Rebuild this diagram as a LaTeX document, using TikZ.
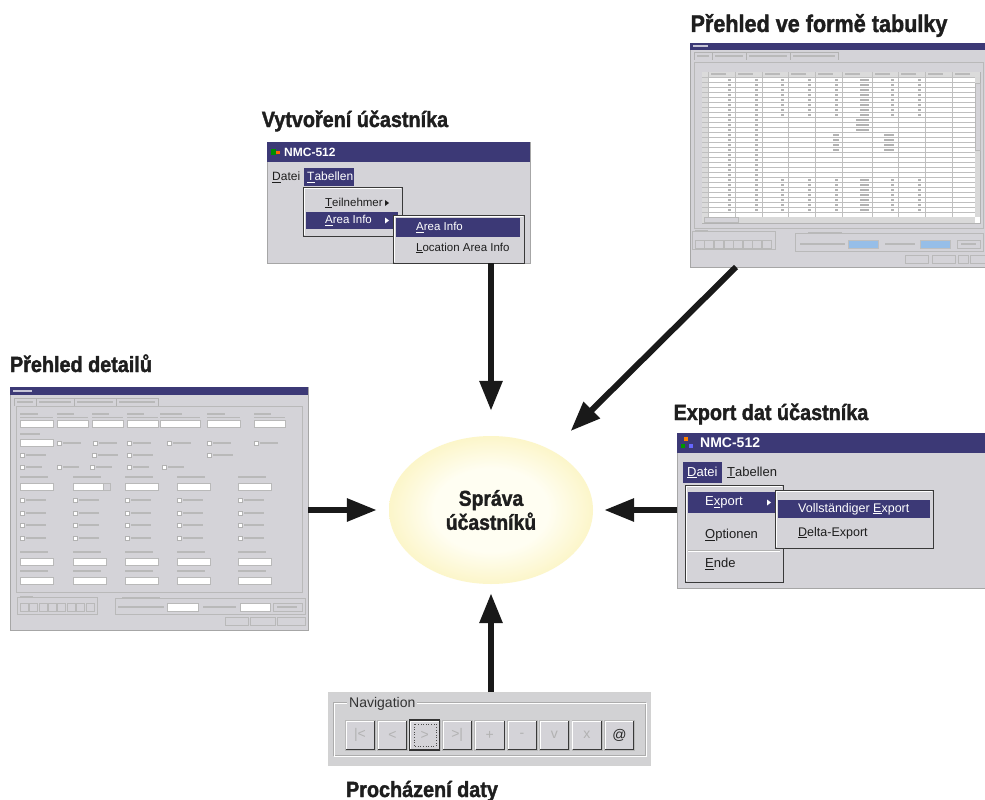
\documentclass[tikz,border=0pt]{standalone}
\usepackage{fontspec}
\setmainfont{Liberation Sans}
\newfontfamily\labfont[FakeStretch=0.9, BoldFeatures={FakeBold=1.6}]{Liberation Sans}
\newfontfamily\uifont{Liberation Sans}
\usetikzlibrary{arrows.meta,shapes.geometric,calc}
\definecolor{wingray}{RGB}{212,211,216}
\definecolor{panelgray}{RGB}{210,210,212}
\definecolor{titleblue}{RGB}{60,57,118}
\definecolor{ink}{RGB}{30,30,30}
\definecolor{corein}{RGB}{255,254,242}
\definecolor{coreout}{RGB}{247,232,135}
\definecolor{fieldblue}{RGB}{150,190,232}
\pgfdeclareradialshading{coreglow}{\pgfpoint{0bp}{0bp}}{color(0bp)=(corein); color(14bp)=(corein); color(43bp)=(coreout); color(50bp)=(coreout!60!white)}
\tikzset{
  win/.style={draw=gray!70, fill=wingray, line width=0.8pt, inner sep=0pt, outer sep=0pt, anchor=north west},
  tbar/.style={fill=titleblue},
  menubox/.style={fill=wingray, draw=gray!45!black, line width=0.8pt},
  lab/.style={font=\labfont\bfseries\fontsize{22}{25}\selectfont, text=ink, inner sep=0pt, anchor=base},
  ui/.style={font=\uifont\fontsize{12}{13}\selectfont, text=ink, inner sep=0pt, anchor=west},
  uiw/.style={ui, text=white},
  ptxt/.style={fill=gray!55},
  field/.style={fill=white, draw=gray!55, line width=0.4pt},
  chk/.style={fill=white, draw=gray!60, line width=0.4pt},
  btn/.style={fill=wingray, draw=gray!55, line width=0.5pt},
  arr/.style={draw=black!90, line width=6pt, -{Triangle[length=30pt,width=22pt]}},
}
\begin{document}
\begin{tikzpicture}[x=1pt,y=-1pt]
\path[use as bounding box, fill=white] (0,0) rectangle (985,800);

% ---------- central ellipse ----------
\node[ellipse, shade, shading=coreglow, minimum width=204pt, minimum height=148pt,
      inner sep=0pt, align=center, text=ink,
      font=\labfont\bfseries\fontsize{21.5}{24}\selectfont] (core) at (491,510) {Správa\\účastníků};

% ---------- window: create participant ----------
\node[win, minimum width=263pt, minimum height=121pt] (creat) at (267,142) {};
\fill[tbar] (267,142) rectangle (530,162);
\fill[green!55!black] (271,149) rectangle (276,155);
\fill[orange!80!red] (276,150.5) rectangle (280,153.5);
\node[uiw, font=\uifont\bfseries\fontsize{12}{12}\selectfont] (ctitle) at (284,152) {NMC-512};
\node[ui] (cm1) at (272,177) {\underline{D}atei};
\fill[tbar] (304,168) rectangle (354,186);
\node[uiw] (cm2) at (307,177) {\underline{T}abellen};
\filldraw[menubox] (303,187) rectangle (402,236);
\draw[white, line width=0.8pt] (304,235) -- (304,188) -- (401,188);
\node[ui, font=\uifont\fontsize{11.5}{12}\selectfont] (cd1) at (325,203) {\underline{T}eilnehmer};
\fill[ink] (385,200) -- (389,203) -- (385,206) -- cycle;
\fill[tbar] (306,212) rectangle (398,229);
\node[uiw, font=\uifont\fontsize{11.5}{12}\selectfont] (cd2) at (325,220.5) {\underline{A}rea Info};
\fill[white] (385,217.5) -- (389,220.5) -- (385,223.5) -- cycle;
\filldraw[menubox] (393,215) rectangle (524,263);
\draw[white, line width=0.8pt] (394,262) -- (394,216) -- (523,216);
\fill[tbar] (396,218) rectangle (520,237);
\node[uiw, font=\uifont\fontsize{11.5}{12}\selectfont] (cs1) at (416,227.5) {\underline{A}rea Info};
\node[ui, font=\uifont\fontsize{11.5}{12}\selectfont] (cs2) at (416,248) {\underline{L}ocation Area Info};

% ---------- window: table overview ----------
\node[win, minimum width=295pt, minimum height=224pt] (tabw) at (690,43) {};
\fill[tbar] (690,43) rectangle (985,50);
\fill[white!70!titleblue] (693,45.5) rectangle (708,47.5);
\foreach \a/\b in {694/712,712/746,746/790,790/838}{
  \draw[gray!60, line width=0.4pt] (\a,60) -- (\a,52) -- (\b,52) -- (\b,60);
  \fill[ptxt] (\a+3,55) rectangle (\b-3,57);
}
\draw[gray!55, line width=0.5pt] (694,62) rectangle (983,228);
\filldraw[fill=white, draw=gray!60, line width=0.5pt] (702,72) rectangle (980,223);
\fill[gray!28] (702,72) rectangle (980,77);
\fill[gray!28] (702,77) rectangle (708,217);
\foreach \r in {0,...,28}
  \draw[gray!50, line width=0.35pt] (702,77+5*\r) -- (975,77+5*\r);
\foreach \c in {708,735,762,788,815,842,872,898,925,952}{
  \draw[gray!50, line width=0.35pt] (\c,72) -- (\c,217);
  \fill[ptxt] (\c+3,73.5) rectangle (\c+18,75.5);
}
\foreach \r in {1,2,3,4,5,6,7,8,21,22,23,24,25,26,27}{
  \foreach \c in {735,762,788,815,842,898,925}
    \fill[gray!60] (\c-7,77+5*\r-3.5) rectangle (\c-4,77+5*\r-1.5);
  \fill[gray!60] (860,77+5*\r-3.5) rectangle (869,77+5*\r-1.5);
}
\foreach \r in {9,...,20}{
  \fill[gray!60] (728,77+5*\r-3.5) rectangle (731,77+5*\r-1.5);
  \fill[gray!60] (755,77+5*\r-3.5) rectangle (758,77+5*\r-1.5);
}
\foreach \r in {9,10,11}
  \fill[gray!60] (856,77+5*\r-3.5) rectangle (869,77+5*\r-1.5);
\foreach \r in {12,13,14,15}{
  \fill[gray!60] (833,77+5*\r-3.5) rectangle (839,77+5*\r-1.5);
  \fill[gray!60] (884,77+5*\r-3.5) rectangle (894,77+5*\r-1.5);
}
\fill[gray!30] (975,77) rectangle (980,217);
\filldraw[btn] (975,83) rectangle (980,150);
\fill[gray!30] (702,217) rectangle (975,223);
\filldraw[btn] (704,217.5) rectangle (738,222.5);
\draw[gray!55, line width=0.5pt] (692,231) rectangle (775,249);
\fill[ptxt] (695,229.5) rectangle (708,231.5);
\foreach \i in {0,...,7}
  \filldraw[btn] (695+9.6*\i,240) rectangle (704+9.6*\i,248);
\draw[gray!55, line width=0.5pt] (795,233) rectangle (983,251);
\fill[ptxt] (808,232) rectangle (842,234);
\fill[ptxt] (800,243) rectangle (845,245);
\filldraw[fill=fieldblue, draw=gray!50, line width=0.4pt] (848,240) rectangle (878,248);
\fill[ptxt] (885,243) rectangle (915,245);
\filldraw[fill=fieldblue, draw=gray!50, line width=0.4pt] (920,240) rectangle (950,248);
\filldraw[btn] (957,240) rectangle (980,248);
\fill[ptxt] (961,243) rectangle (976,245);
\foreach \a/\b in {905/928,932/955,958/968,970/985}
  \filldraw[btn] (\a,255) rectangle (\b,263);

% ---------- window: detail overview ----------
\node[win, minimum width=298pt, minimum height=243pt] (detw) at (10,387) {};
\fill[tbar] (10,387) rectangle (308,395);
\fill[white!70!titleblue] (13,390) rectangle (32,392);
\foreach \a/\b in {14/36,36/74,74/116,116/158}{
  \draw[gray!60, line width=0.4pt] (\a,406) -- (\a,398) -- (\b,398) -- (\b,406);
  \fill[ptxt] (\a+3,401) rectangle (\b-3,403);
}
\draw[gray!55, line width=0.5pt] (16,406) rectangle (302,592);
\foreach \a/\b in {20/53,57/88,92/123,127/158,160/200,207/240,254/285}{
  \fill[ptxt] (\a,412.5) rectangle ({\a+0.55*(\b-\a)},414.5);
  \draw[gray!55, line width=0.4pt] (\a,417) -- (\b,417);
  \filldraw[field] (\a,420) rectangle (\b,427);
}
\fill[ptxt] (20,433) rectangle (40,435);
\filldraw[field] (20,439) rectangle (53,446);
\foreach \a in {57,93,127,167,207,254}{
  \filldraw[chk] (\a,441) rectangle (\a+4,445);
  \fill[ptxt] (\a+6,442) rectangle (\a+24,444);
}
\foreach \a in {20,92,127,207}{
  \filldraw[chk] (\a,453) rectangle (\a+4,457);
  \fill[ptxt] (\a+6,454) rectangle (\a+26,456);
}
\foreach \a in {20,57,90,127,162}{
  \filldraw[chk] (\a,465) rectangle (\a+4,469);
  \fill[ptxt] (\a+6,466) rectangle (\a+22,468);
}
\foreach \y in {477,552,571}{
  \foreach \a in {20,73,125,177,238}{
    \fill[ptxt] (\a,\y-1) rectangle (\a+28,\y+1);
    \filldraw[field] (\a,\y+6) rectangle (\a+33,\y+13);
  }
}
\filldraw[btn] (103,483) rectangle (110,490);
\foreach \y in {500,513,525,538}{
  \foreach \a in {20,73,125,177,238}{
    \filldraw[chk] (\a,\y-2) rectangle (\a+4,\y+2);
    \fill[ptxt] (\a+6,\y-1) rectangle (\a+26,\y+1);
  }
}
\draw[gray!55, line width=0.5pt] (17,597) rectangle (97,614);
\fill[ptxt] (20,595.5) rectangle (33,597.5);
\foreach \i in {0,...,7}
  \filldraw[btn] (20+9.4*\i,603) rectangle (28+9.4*\i,611);
\draw[gray!55, line width=0.5pt] (115,598) rectangle (305,614);
\fill[ptxt] (122,597) rectangle (160,599);
\fill[ptxt] (118,606) rectangle (164,608);
\filldraw[field] (167,603) rectangle (198,611);
\fill[ptxt] (203,606) rectangle (236,608);
\filldraw[field] (240,603) rectangle (270,611);
\filldraw[btn] (273,603) rectangle (302,611);
\fill[ptxt] (277,606) rectangle (297,608);
\foreach \a/\b in {225/248,250/275,277/305}
  \filldraw[btn] (\a,617) rectangle (\b,625);

% ---------- window: export ----------
\node[win, minimum width=308pt, minimum height=155pt] (expw) at (677,433) {};
\fill[tbar] (677,433) rectangle (985,453);
\fill[orange] (684,437) rectangle (688,441);
\fill[green!60!black] (681,444) rectangle (685,448);
\fill[blue!60] (689,444) rectangle (693,448);
\node[uiw, font=\uifont\bfseries\fontsize{14}{14}\selectfont] (etitle) at (700,443) {NMC-512};
\fill[tbar] (683,462) rectangle (722,483);
\node[uiw, font=\uifont\fontsize{13}{13}\selectfont] (em1) at (687,472.5) {\underline{D}atei};
\node[ui, font=\uifont\fontsize{13}{13}\selectfont] (em2) at (727,472.5) {\underline{T}abellen};
\filldraw[menubox] (685,485) rectangle (783,582);
\draw[white, line width=0.8pt] (686,581) -- (686,486) -- (782,486);
\fill[tbar] (688,492) rectangle (776,513);
\node[uiw, font=\uifont\fontsize{13}{13}\selectfont] (ed1) at (705,502.5) {E\underline{x}port};
\fill[white] (767,499.5) -- (771,502.5) -- (767,505.5) -- cycle;
\node[ui, font=\uifont\fontsize{13}{13}\selectfont] (ed2) at (705,535) {\underline{O}ptionen};
\draw[gray!60, line width=0.6pt] (688,550) -- (780,550);
\draw[white, line width=0.6pt] (688,551) -- (780,551);
\node[ui, font=\uifont\fontsize{13}{13}\selectfont] (ed3) at (705,564) {\underline{E}nde};
\filldraw[menubox] (775,490) rectangle (933,548);
\draw[white, line width=0.8pt] (776,547) -- (776,491) -- (932,491);
\fill[tbar] (778,500) rectangle (930,518);
\node[uiw, font=\uifont\fontsize{12.5}{13}\selectfont] (es1) at (798,509) {Vollständiger \underline{E}xport};
\node[ui, font=\uifont\fontsize{12.5}{13}\selectfont] (es2) at (798,533) {\underline{D}elta-Export};

% ---------- navigation panel ----------
\node[win, draw=gray!35, fill=panelgray, minimum width=322pt, minimum height=73pt] (navp) at (328,692) {};
\draw[gray!65, line width=0.8pt] (333,702) rectangle (645,755);
\draw[white, line width=0.8pt] (334,703) rectangle (646,756);
\node[ui, fill=panelgray, inner xsep=2pt, font=\uifont\fontsize{14}{14}\selectfont, text=gray!40!black] (navt) at (347,704) {Navigation};
\foreach \i/\lbl in {0/{|<},1/{<},2/{>},3/{>|},4/{+},5/{-},6/{v},7/{x},8/{@}}{
  \pgfmathsetmacro\bx{345+32.4*\i}
  \filldraw[btn] (\bx,720) rectangle (\bx+30,750);
  \draw[white, line width=1pt] (\bx+1,749) -- (\bx+1,721) -- (\bx+29,721);
  \draw[gray!45!black, line width=1pt] (\bx+1,749.5) -- (\bx+29.5,749.5) -- (\bx+29.5,720.5);
  \node[font=\uifont\fontsize{14}{14}\selectfont, text=gray!60, inner sep=0pt] (nb\i) at (\bx+15,735) {\lbl};
}
\draw[black!80, line width=1.2pt] (409.8,720) rectangle (439.8,750);
\draw[gray!60!black, line width=0.6pt, dotted] (413.8,724) rectangle (435.8,746);
\node[font=\uifont\fontsize{14}{14}\selectfont, text=gray!30!black, inner sep=0pt, fill=wingray] (nbat) at (619.4,735) {@};

% ---------- labels ----------
\node[lab, font=\labfont\bfseries\fontsize{24}{26}\selectfont] (tabl) at (819,32) {Přehled ve formě tabulky};
\node[lab] (creatl) at (355,127) {Vytvoření účastníka};
\node[lab] (detl) at (81,372) {Přehled detailů};
\node[lab] (expl) at (771,420) {Export dat účastníka};
\node[lab] (navl) at (422,797) {Procházení daty};

% ---------- connectors ----------
\draw[arr, shorten >=25pt] (creat.south -| core.north) -- (core.north);
\draw[arr, shorten >=27pt] ([xshift=46pt]tabw.south west) -- (core);
\draw[arr, shorten >=12pt] (detw.east |- core.west) -- (core.west);
\draw[arr, shorten >=11pt] (expw.west |- core.east) -- (core.east);
\draw[arr, shorten >=9pt] (navp.north -| core.south) -- (core.south);
\end{tikzpicture}
\end{document}
